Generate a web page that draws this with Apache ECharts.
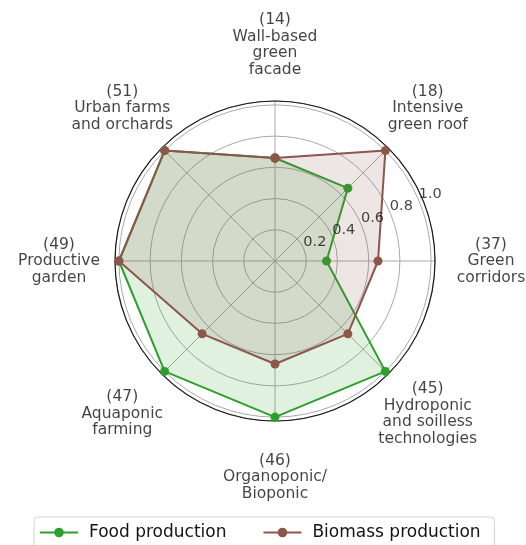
<!DOCTYPE html>
<html>
<head>
<meta charset="utf-8">
<script src="https://cdn.jsdelivr.net/npm/echarts@6/dist/echarts.min.js"></script>
<style>
html,body{margin:0;padding:0;background:#fff;}
#chart{width:526px;height:545px;}
</style>
</head>
<body>
<div id="chart"></div>
<script>
const categories = ['Wall-based\ngreen\nfacade', 'Intensive\ngreen roof', 'Green\ncorridors', 'Hydroponic\nand soilless\ntechnologies', 'Organoponic/\nBioponic', 'Aquaponic\nfarming', 'Productive\ngarden', 'Urban farms\nand orchards'];
const counts = [14, 18, 37, 45, 46, 47, 49, 51];
const foodValues = [0.66, 0.66, 0.33, 1.0, 1.0, 1.0, 1.0, 1.0];
const biomassValues = [0.66, 1.0, 0.66, 0.66, 0.66, 0.66, 1.0, 1.0];
const radialTicks = [0.2, 0.4, 0.6, 0.8, 1.0];
const tickLabels = ['0.2', '0.4', '0.6', '0.8', '1.0'];
const seriesNames = ['Food production', 'Biomass production'];

const step = 360 / categories.length;
function closedData(vals) {
  const d = vals.map((v, i) => [v, i * step]);
  d.push([vals[0], 360]);
  return d;
}
const FONT = 'DejaVu Sans';
const TXT = '#141414';
const GREEN = '#2ca02c';
const BROWN = '#8c564b';
const GRID = '#aaaaaa';

const chart = echarts.init(document.getElementById('chart'), null, {renderer: 'canvas'});
const option = {
  animation: false,
  backgroundColor: '#ffffff',
  polar: [
    {center: [275, 261], radius: 160},
    {center: [275, 261], radius: 216}
  ],
  angleAxis: [
    {
      polarIndex: 0, type: 'value', min: 0, max: 360, interval: 45,
      startAngle: 90, clockwise: true,
      axisLine: {show: true, lineStyle: {color: '#1a1a1a', width: 1.2}},
      axisTick: {show: false}, axisLabel: {show: false},
      splitLine: {show: true, lineStyle: {color: GRID, width: 1}}
    },
    {
      polarIndex: 1, type: 'value', min: 0, max: 360, startAngle: 90, clockwise: true,
      show: false
    }
  ],
  radiusAxis: [
    {
      polarIndex: 0, type: 'value', min: 0, max: 1.025, interval: 0.2,
      axisLine: {show: false}, axisTick: {show: false}, axisLabel: {show: false},
      splitLine: {show: true, lineStyle: {color: GRID, width: 1}}
    },
    {polarIndex: 1, type: 'value', min: 0, max: 1, show: false}
  ],
  legend: {
    data: seriesNames,
    left: 34, top: 517,
    itemWidth: 38, itemHeight: 12, itemGap: 36,
    padding: [7, 14, 7, 5],
    borderColor: '#d4d4d4', borderWidth: 1, borderRadius: 4,
    textStyle: {fontFamily: FONT, fontSize: 17, color: TXT, padding: [0, 0, 0, 6]}
  },
  series: [
    {
      name: seriesNames[0], type: 'line', coordinateSystem: 'polar', polarIndex: 0,
      data: closedData(foodValues),
      symbol: 'circle', symbolSize: 9, showSymbol: true,
      lineStyle: {color: GREEN, width: 2},
      itemStyle: {color: GREEN, borderWidth: 0},
      areaStyle: {color: GREEN, opacity: 0.15},
      z: 3
    },
    {
      name: seriesNames[1], type: 'line', coordinateSystem: 'polar', polarIndex: 0,
      data: closedData(biomassValues),
      symbol: 'circle', symbolSize: 9, showSymbol: true,
      lineStyle: {color: BROWN, width: 2},
      itemStyle: {color: BROWN, borderWidth: 0},
      areaStyle: {color: BROWN, opacity: 0.15},
      z: 4
    },
    {
      type: 'scatter', coordinateSystem: 'polar', polarIndex: 0,
      data: radialTicks.map((v, i) => ({value: [v, 67.5], label: {formatter: tickLabels[i]}})),
      symbolSize: 1, itemStyle: {color: 'rgba(0,0,0,0)'},
      silent: true, z: 6,
      label: {
        show: true, position: [0, 1], align: 'left', verticalAlign: 'bottom',
        fontFamily: FONT, fontSize: 14.5, color: TXT
      }
    },
    {
      type: 'scatter', coordinateSystem: 'polar', polarIndex: 1,
      data: categories.map((c, i) => ({value: [1, i * step], label: {formatter: '(' + counts[i] + ')\n' + c}})),
      symbolSize: 1, itemStyle: {color: 'rgba(0,0,0,0)'},
      silent: true, z: 6,
      label: {
        show: true, position: 'inside', align: 'center', verticalAlign: 'middle',
        fontFamily: FONT, fontSize: 15.5, lineHeight: 16.5, color: TXT
      }
    }
  ]
};
chart.setOption(option);
</script>
</body>
</html>
